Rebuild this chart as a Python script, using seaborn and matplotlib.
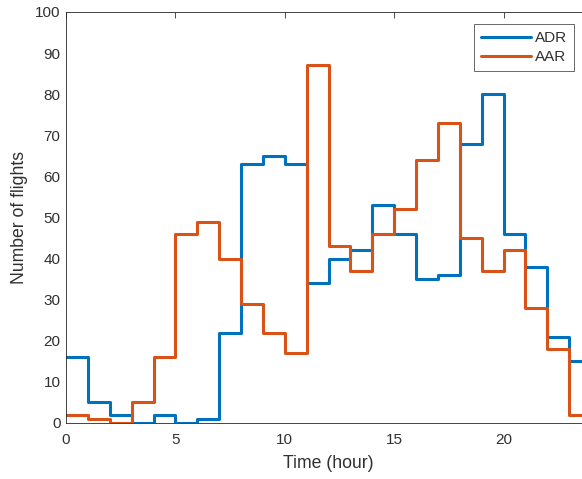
import numpy as np
import pandas as pd
import matplotlib
matplotlib.use("Agg")
import matplotlib.pyplot as plt
import seaborn as sns

hours = list(range(24))
adr = [16, 5, 2, 0, 2, 0, 1, 22, 63, 65, 63, 34, 40, 42, 53, 46, 35, 36, 68, 80, 46, 38, 21, 15]
aar = [2, 1, 0, 5, 16, 46, 49, 40, 29, 22, 17, 87, 43, 37, 46, 52, 64, 73, 45, 37, 42, 28, 18, 2]
series_names = ["ADR", "AAR"]
colors = ["#0072BD", "#D95319"]
xticks = [0, 5, 10, 15, 20]
yticks = list(range(0, 101, 10))

sns.set_style("white")
plt.rcParams['font.family'] = ['Liberation Sans', 'DejaVu Sans']

# build step table (append last value so the final step extends to hour 24)
rows = []
for name, vals in zip(series_names, [adr, aar]):
    xs = hours + [hours[-1] + 1]
    ys = vals + [vals[-1]]
    for x, y in zip(xs, ys):
        rows.append({"hour": x, "flights": y, "series": name})
df = pd.DataFrame(rows)

fig = plt.figure(figsize=(5.82, 4.79), dpi=100)
ax = fig.add_axes([66/582, (479-423)/479, 525/582, 411/479])

sns.lineplot(data=df, x="hour", y="flights", hue="series", palette=colors,
             drawstyle="steps-post", linewidth=2.2, ax=ax, estimator=None,
             sort=False)

ax.set_xlim(0, 24)
ax.set_ylim(0, 100)
ax.set_xticks(xticks)
ax.set_yticks(yticks)
ax.tick_params(direction="in", length=4, width=0.6, colors="#303030",
               labelsize=11, top=True, right=True)
ax.tick_params(axis="x", pad=7)
ax.tick_params(axis="y", pad=4)
for s in ax.spines.values():
    s.set_color("#262626")
    s.set_linewidth(0.6)
ax.set_xlabel("Time (hour)", fontsize=12.7, color="#303030", labelpad=6)
ax.set_ylabel("Number of flights", fontsize=12.7, color="#303030", labelpad=5)

leg = ax.legend(loc="upper left", bbox_to_anchor=(408/525, 1 - 12/411), frameon=True,
                fancybox=False, fontsize=11, handlelength=3.3, borderpad=0.45,
                labelspacing=0.35, handletextpad=0.25, borderaxespad=0)
leg.get_frame().set_edgecolor("#262626")
leg.get_frame().set_linewidth(0.6)
for t in leg.get_texts():
    t.set_color("#303030")

fig.savefig("out.png", dpi=100)
